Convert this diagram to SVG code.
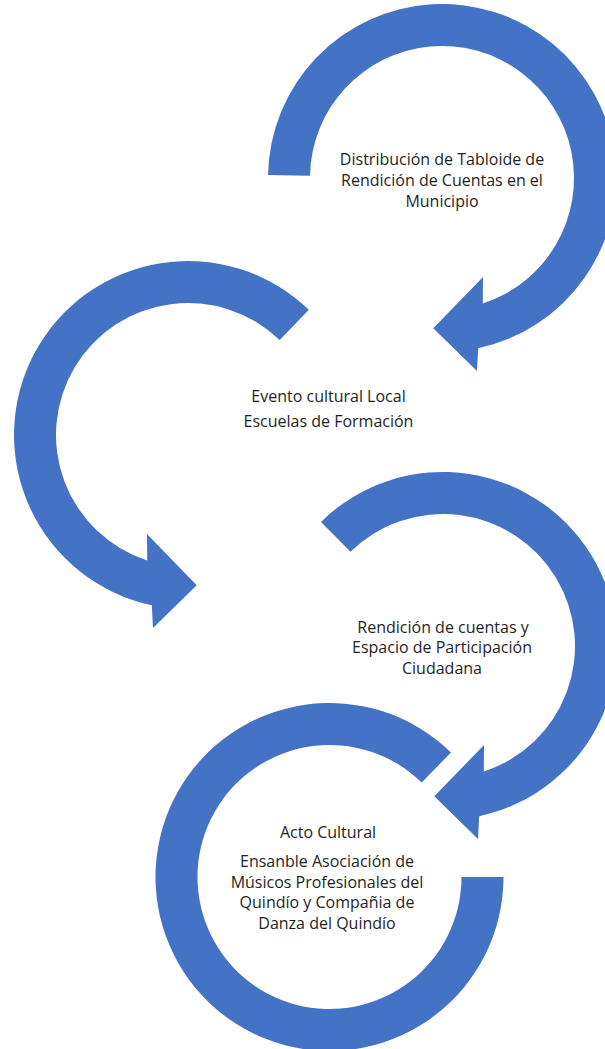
<svg xmlns="http://www.w3.org/2000/svg" width="605" height="1049" viewBox="0 0 605 1049">
<style>
.arc{fill:#4472C4;stroke:none}
.lbl{font-family:"Open Sans","Noto Sans","Liberation Sans",sans-serif;font-size:16px;fill:#1f1f1f;text-anchor:middle}
</style>
<rect width="605" height="1049" fill="#ffffff"/>
<g id="connectors">
<path id="arrow1" class="arc" d="M268.03,174.96 A174,174 0 1 1 478.18,348.20 L477,371 L433.3,328.3 L483,277 L482.79,303.54 A132,132 0 1 0 310.02,175.70 Z"/>
<path id="arrow2" class="arc" d="M308.88,309.84 A174,174 0 1 0 151.82,605.20 L153,628 L196.7,585.3 L147,534 L147.21,560.54 A132,132 0 1 1 279.70,340.05 Z"/>
<path id="arrow3" class="arc" d="M321.04,521.89 A174,174 0 1 1 479.18,816.20 L478,839 L434.3,796.3 L484,745 L483.79,771.54 A132,132 0 1 0 350.48,551.84 Z"/>
<path id="arrow4" class="arc" d="M503.5,877 A174,174 0 1 1 451.02,752.47 L421.69,782.53 A132,132 0 1 0 461.5,877 Z"/>
</g>
<g id="node1">
<text class="lbl" x="442" y="165">Distribución de Tabloide de</text>
<text class="lbl" x="442" y="186">Rendición de Cuentas en el</text>
<text class="lbl" x="442" y="207">Municipio</text>
</g>
<g id="node2">
<text class="lbl" x="328.5" y="402">Evento cultural Local</text>
<text class="lbl" x="328.5" y="427">Escuelas de Formación</text>
</g>
<g id="node3">
<text class="lbl" x="443" y="632.5">Rendición de cuentas y</text>
<text class="lbl" x="442" y="653">Espacio de Participación</text>
<text class="lbl" x="442" y="673.5">Ciudadana</text>
</g>
<g id="node4">
<text class="lbl" x="328" y="838">Acto Cultural</text>
<text class="lbl" x="327" y="866.5">Ensanble Asociación de</text>
<text class="lbl" x="327" y="887.5">Músicos Profesionales del</text>
<text class="lbl" x="327" y="908.3">Quindío y Compañia de</text>
<text class="lbl" x="327" y="929">Danza del Quindío</text>
</g>
</svg>
